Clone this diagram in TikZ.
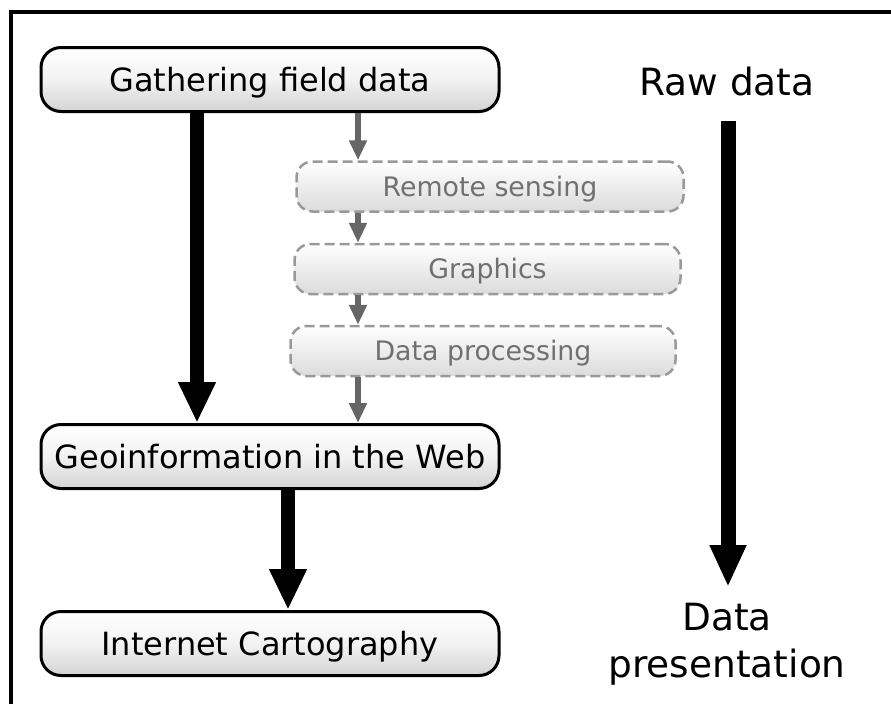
\documentclass[tikz,border=0pt]{standalone}
\usepackage{fontspec}
\setmainfont{DejaVu Sans}
\usetikzlibrary{arrows.meta}
\definecolor{graybox}{HTML}{999999}
\definecolor{graytext}{HTML}{707070}
\definecolor{grayarr}{HTML}{666666}
\tikzset{
  mainbox/.style={draw=black, line width=3pt, rounded corners=20pt,
    minimum width=458pt, minimum height=64pt, inner sep=0pt,
    top color=white, bottom color=black!17, middle color=white!95!black,
    font=\fontsize{32}{38}\selectfont, text height=28pt, text depth=5pt},
  graystepbox/.style={draw=graybox, line width=2.5pt, rounded corners=16pt,
    dash pattern=on 10pt off 5pt, minimum height=50pt, inner sep=0pt,
    top color=white, bottom color=black!14,
    text=graytext, font=\fontsize{26.8}{32}\selectfont, text height=23.5pt, text depth=4pt},
  sidelabel/.style={font=\fontsize{37.5}{47}\selectfont, anchor=base, inner sep=0pt},
  bigarrow/.style={line width=14pt, -{Triangle[length=41pt,width=35pt]}},
  sidearrow/.style={line width=15pt, -{Triangle[length=42pt,width=34pt]}},
  grayarrow/.style={draw=grayarr, line width=6pt, -{Triangle[length=20pt,width=17pt]}, grayarr},
}
\begin{document}
\begin{tikzpicture}[x=1pt,y=-1pt]
\useasboundingbox (0,0) rectangle (891,704);
% frame (only top and left edges visible)
\draw[line width=4pt] (10.5,704) -- (10.5,12) -- (891,12);

% main boxes
\node[mainbox] (gath) at (270,79.5) {Gathering field data};
\node[mainbox] (geo) at (270,456.5) {Geoinformation in the Web};
\node[mainbox] (inet) at (270,643.5) {Internet Cartography};

% gray boxes
\node[graystepbox, minimum width=387pt] (rs) at (490,186.5) {Remote sensing};
\node[graystepbox, minimum width=386pt] (gr) at (487.5,269) {Graphics};
\node[graystepbox, minimum width=385pt] (dp) at (483,351) {Data processing};

% x positions of arrows
\coordinate (xa) at (197,0);
\coordinate (xb) at (288,0);
\coordinate (xg) at (358,0);

% black arrows
\draw[bigarrow] (gath.south -| xa) -- (geo.north -| xa);
\draw[bigarrow] (geo.south -| xb) -- (inet.north -| xb);

% gray arrows
\draw[grayarrow] (gath.south -| xg) -- (rs.north -| xg);
\draw[grayarrow] (rs.south -| xg) -- (gr.north -| xg);
\draw[grayarrow] (gr.south -| xg) -- (dp.north -| xg);
\draw[grayarrow] (dp.south -| xg) -- (geo.north -| xg);

% right side
\node[sidelabel] (raw) at (727,95) {Raw data};
\node[sidelabel] (pres1) at (727,630) {Data};
\node[sidelabel] (pres2) at (727,677) {presentation};
\coordinate (rtop) at (728,121);
\coordinate (rbot) at (728,587);
\draw[sidearrow] (rtop) -- (rbot);
\end{tikzpicture}
\end{document}
